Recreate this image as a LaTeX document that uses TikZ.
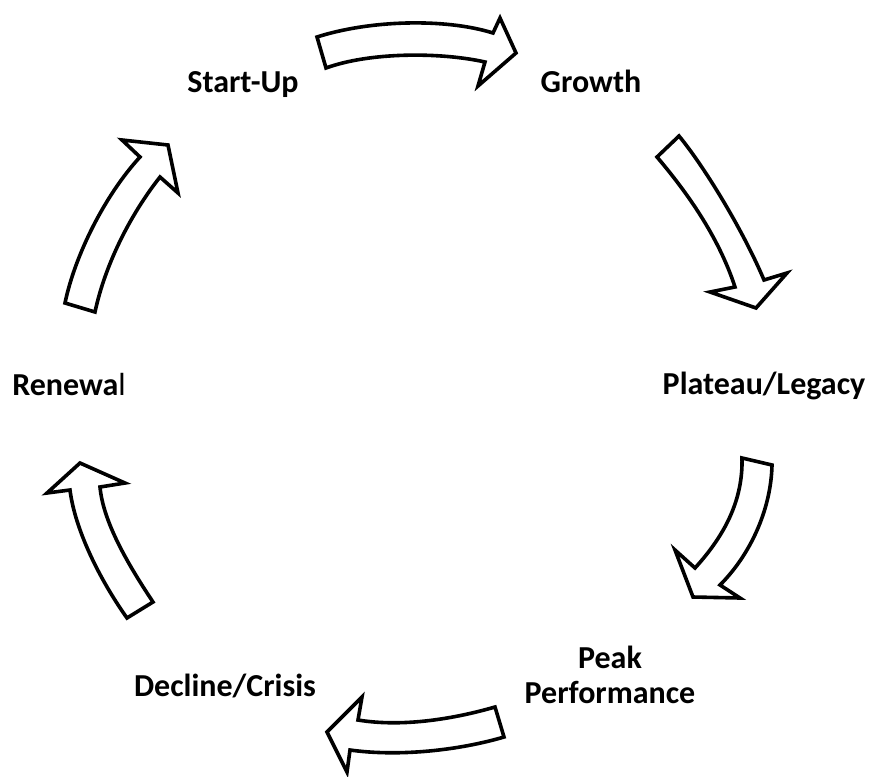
\documentclass[tikz,border=0pt]{standalone}
\usepackage{fontspec}
\setmainfont{Carlito}
\begin{document}
\begin{tikzpicture}[x=1pt,y=-1pt,
  blockarrow/.style={draw=black,fill=white,line width=3.6pt,line join=miter},
  stage/.style={font=\fontsize{32}{36}\selectfont\bfseries,anchor=base,inner sep=0pt}]
\useasboundingbox (0,0) rectangle (874,776);
% arrows
\draw[blockarrow] (317,37) .. controls (370,20) and (445,18) .. (493,33)
  -- (500,18) -- (516,53) -- (478,86) -- (485,62)
  .. controls (440,52) and (370,52) .. (326,68) -- cycle;
\draw[blockarrow] (657,157) -- (679,136) .. controls (703,165) and (742,228) .. (764,280)
  -- (787,273) -- (756,308) -- (710,292) -- (735,287)
  .. controls (718,235) and (685,190) .. (657,157) -- cycle;
\draw[blockarrow] (742,458) -- (772,465) .. controls (771,510) and (750,555) .. (720,585)
  -- (740,598) -- (693,597) -- (675,550) -- (695,568)
  .. controls (725,535) and (743,500) .. (742,458) -- cycle;
\draw[blockarrow] (495,707) -- (504,737) .. controls (460,750) and (400,757) .. (350,750)
  -- (347,772) -- (327,732) -- (362,697) -- (358,720)
  .. controls (400,727) and (450,720) .. (495,707) -- cycle;
\draw[blockarrow] (127,618) -- (153,602) .. controls (125,560) and (103,520) .. (100,487)
  -- (125,483) -- (80,463) -- (47,493) -- (70,490)
  .. controls (75,530) and (100,580) .. (127,618) -- cycle;
\draw[blockarrow] (65,303) .. controls (75,255) and (105,195) .. (140,157)
  -- (122,140) -- (168,145) -- (178,193) -- (160,177)
  .. controls (130,215) and (105,265) .. (95,312) -- cycle;
% labels
\node[stage] (startup) at (243,92) {Start-Up};
\node[stage] (growth) at (591,92) {Growth};
\node[stage] (plateau) at (764,394) {Plateau/Legacy};
\node[stage] (peak) at (610,668) {Peak};
\node[stage] (performance) at (610,703) {Performance};
\node[stage] (decline) at (225,696) {Decline/Crisis};
\node[stage] (renewal) at (69,395) {Renewa\textmd{l}};
\end{tikzpicture}
\end{document}
